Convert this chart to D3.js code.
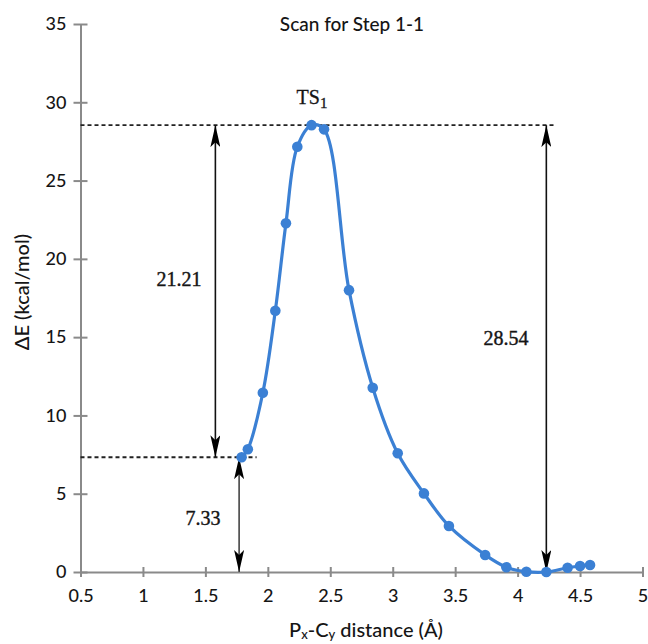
<!DOCTYPE html>
<html>
<head>
<meta charset="utf-8">
<script src="https://cdn.jsdelivr.net/npm/d3@7"></script>
<style>
  html, body { margin: 0; padding: 0; background: #fff; }
  svg { display: block; }
</style>
</head>
<body>
<svg id="chart" width="648" height="644"></svg>
<script>
// Potential energy scan, step 1-1
const distance = [1.79, 1.84, 1.96, 2.06, 2.145, 2.236, 2.35, 2.45, 2.65, 2.84, 3.04, 3.25, 3.45, 3.74, 3.91, 4.07, 4.23, 4.40, 4.50, 4.58];
const energy   = [7.33, 7.84, 11.45, 16.69, 22.27, 27.16, 28.54, 28.27, 18.0, 11.77, 7.58, 5.02, 2.94, 1.09, 0.30, 0.02, 0.00, 0.27, 0.38, 0.45];

const xTicks = [0.5, 1, 1.5, 2, 2.5, 3, 3.5, 4, 4.5, 5];
const yTicks = [0, 5, 10, 15, 20, 25, 30, 35];

// Energy levels and where their guides sit
const reactantLevel = 7.33;
const tsLevel = 28.54;
const barrierLabel = "21.21";
const reactantLabel = "7.33";
const tsLabel = "28.54";
const arrowReactant = 1.77;   // x of the 0 → 7.33 arrow
const arrowBarrier = 1.58;    // x of the 7.33 → 28.54 arrow
const arrowTS = 4.23;         // x of the 0 → 28.54 arrow
const reactantGuideEnd = 1.91;
const tsGuideEnd = 4.3;

const svg = d3.select("#chart");
const x = d3.scaleLinear().domain([0.5, 5]).range([80.5, 642.5]);
const y = d3.scaleLinear().domain([0, 35]).range([572, 24]);

const sans = "Lato, 'Open Sans', sans-serif";
const serif = "'Liberation Serif', 'DejaVu Serif', serif";
const axisColor = "#8a8a8a";
const ink = "#151515";

// Axes
const xAxis = svg.append("g")
  .attr("transform", `translate(0,${y(0)})`)
  .call(d3.axisBottom(x).tickValues(xTicks).tickFormat(d3.format("")).tickSize(5).tickSizeOuter(0).tickPadding(12));
xAxis.selectAll(".tick line").attr("y1", -5);

const yAxis = svg.append("g")
  .attr("transform", `translate(${x(0.5)},0)`)
  .call(d3.axisLeft(y).tickValues(yTicks).tickSize(7).tickSizeOuter(0).tickPadding(7));
yAxis.selectAll(".tick line").attr("x1", 7);

[xAxis, yAxis].forEach(g => {
  g.select(".domain").attr("stroke", axisColor).attr("stroke-width", 2);
  g.selectAll(".tick line").attr("stroke", axisColor).attr("stroke-width", 2);
  g.selectAll(".tick text").attr("fill", ink)
    .style("font-family", sans).style("font-size", "18px").style("font-weight", 500);
});

// Titles
svg.append("text")
  .attr("x", 352).attr("y", 31)
  .attr("text-anchor", "middle")
  .style("font-family", sans).style("font-size", "19px").style("font-weight", 500).attr("fill", ink)
  .text("Scan for Step 1-1");

const xt = svg.append("text")
  .attr("x", 366).attr("y", 637)
  .attr("text-anchor", "middle")
  .style("font-family", sans).style("font-size", "20px").style("font-weight", 500).attr("fill", ink);
xt.append("tspan").text("P");
xt.append("tspan").style("font-size", "13px").attr("dy", 2).text("x");
xt.append("tspan").attr("dy", -2).text("-C");
xt.append("tspan").style("font-size", "13px").attr("dy", 2).text("y");
xt.append("tspan").attr("dy", -2).text(" distance (Å)");

svg.append("text")
  .attr("transform", "translate(29,292) rotate(-90)")
  .attr("text-anchor", "middle")
  .style("font-family", sans).style("font-size", "20px").style("font-weight", 500).attr("fill", ink)
  .text("ΔE (kcal/mol)");

// Dashed guide lines at the reactant and transition-state levels
svg.append("line")
  .attr("x1", x(0.5)).attr("x2", x(tsGuideEnd))
  .attr("y1", y(tsLevel)).attr("y2", y(tsLevel))
  .attr("stroke", "#222").attr("stroke-width", 1.8).attr("stroke-dasharray", "4,3");
svg.append("line")
  .attr("x1", x(0.5)).attr("x2", x(reactantGuideEnd))
  .attr("y1", y(reactantLevel)).attr("y2", y(reactantLevel))
  .attr("stroke", "#222").attr("stroke-width", 1.8).attr("stroke-dasharray", "4,3");

// Arrowhead marker
svg.append("defs").append("marker")
  .attr("id", "head")
  .attr("viewBox", "0 0 22 10")
  .attr("refX", 22).attr("refY", 5)
  .attr("markerWidth", 22).attr("markerHeight", 10)
  .attr("markerUnits", "userSpaceOnUse")
  .attr("orient", "auto-start-reverse")
  .append("path")
  .attr("d", "M0,0 L22,5 L0,10 L5,5 Z")
  .attr("fill", "#000");

const arrows = [
  { at: arrowBarrier, from: reactantLevel, to: tsLevel, color: "#111" },
  { at: arrowReactant, from: 0, to: reactantLevel, color: "#444" },
  { at: arrowTS, from: 0, to: tsLevel, color: "#111" }
];
svg.append("g").selectAll("line").data(arrows).join("line")
  .attr("x1", d => x(d.at)).attr("x2", d => x(d.at))
  .attr("y1", d => y(d.from)).attr("y2", d => y(d.to))
  .attr("stroke", d => d.color).attr("stroke-width", 1.6)
  .attr("marker-start", "url(#head)").attr("marker-end", "url(#head)");

// Value labels
const valueLabels = [
  { text: barrierLabel, x: 179, y: 286 },
  { text: reactantLabel, x: 203, y: 525 },
  { text: tsLabel, x: 506, y: 345 }
];
svg.append("g").selectAll("text").data(valueLabels).join("text")
  .attr("x", d => d.x).attr("y", d => d.y)
  .attr("text-anchor", "middle")
  .style("font-family", serif).style("font-size", "20px")
  .attr("fill", ink).attr("stroke", ink).attr("stroke-width", 0.4)
  .text(d => d.text);

const ts = svg.append("text")
  .attr("x", 312).attr("y", 104)
  .attr("text-anchor", "middle")
  .style("font-family", serif).style("font-size", "20px")
  .attr("fill", ink).attr("stroke", ink).attr("stroke-width", 0.3);
ts.append("tspan").text("TS");
ts.append("tspan").style("font-size", "15px").attr("dy", 4).text("1");

// Scan curve and points
const pts = distance.map((d, i) => [d, energy[i]]);
const blue = "#3b80d4";
svg.append("path")
  .datum(pts)
  .attr("fill", "none")
  .attr("stroke", blue)
  .attr("stroke-width", 3.2)
  .attr("d", d3.line().x(d => x(d[0])).y(d => y(d[1])).curve(d3.curveCatmullRom.alpha(0.5)));

svg.append("g").selectAll("circle").data(pts).join("circle")
  .attr("cx", d => x(d[0])).attr("cy", d => y(d[1]))
  .attr("r", 5.3)
  .attr("fill", blue);
</script>
</body>
</html>
